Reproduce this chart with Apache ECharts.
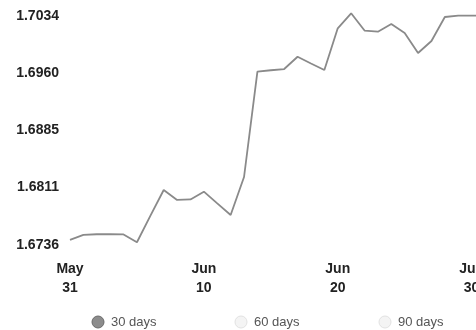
<!DOCTYPE html>
<html>
<head>
<meta charset="utf-8">
<script src="https://cdn.jsdelivr.net/npm/echarts@6/dist/echarts.min.js"></script>
<style>
  html, body { margin: 0; padding: 0; background: #fff; }
  #rateChart { width: 476px; height: 330px; }
</style>
</head>
<body>
<div id="rateChart"></div>
<script>
// daily dates, May 31 -> Jul 1
let dates = ["May 31",
  "Jun 1", "Jun 2", "Jun 3", "Jun 4", "Jun 5", "Jun 6", "Jun 7", "Jun 8", "Jun 9", "Jun 10",
  "Jun 11", "Jun 12", "Jun 13", "Jun 14", "Jun 15", "Jun 16", "Jun 17", "Jun 18", "Jun 19", "Jun 20",
  "Jun 21", "Jun 22", "Jun 23", "Jun 24", "Jun 25", "Jun 26", "Jun 27", "Jun 28", "Jun 29", "Jun 30",
  "Jul 1"];
let rates = [1.67426,
  1.67491, 1.67500, 1.67500, 1.67497, 1.67396, 1.67738, 1.68076, 1.67946, 1.67953, 1.68054,
  1.67901, 1.67751, 1.68245, 1.69615, 1.69634, 1.69650, 1.69810, 1.69722, 1.69637, 1.70180,
  1.70375, 1.70151, 1.70136, 1.70236, 1.70119, 1.69859, 1.70015, 1.70327, 1.70344, 1.70344,
  1.70344];
let yTicks = [1.6736, 1.6811, 1.6885, 1.6960, 1.7034];
let ranges = ["30 days", "60 days", "90 days"];

let chart = echarts.init(document.getElementById("rateChart"));

// radio buttons under the chart
let radioX = [98, 241, 385];
let radios = [];
ranges.forEach(function (r, i) {
  radios.push({
    type: "circle",
    shape: { cx: radioX[i], cy: 322, r: 6 },
    style: i === 0
      ? { fill: "#8c8c8c", stroke: "#6a6a6a", lineWidth: 1 }
      : { fill: "#f4f4f4", stroke: "#e2e2e2", lineWidth: 1 }
  });
  radios.push({
    type: "text",
    x: radioX[i] + 13,
    y: 322,
    style: {
      text: r,
      fill: "#555",
      font: "13px 'Liberation Sans', Arial, sans-serif",
      verticalAlign: "middle"
    }
  });
});

let option = {
  backgroundColor: "#fff",
  animation: false,
  grid: {
    left: 70,
    top: 16,
    right: -9,
    bottom: 85,
    outerBoundsMode: "none"  // let the chart run off the right edge
  },
  xAxis: {
    type: "category",
    data: dates,
    boundaryGap: false,
    axisLine: { show: false },
    axisTick: { show: false },
    axisLabel: {
      // every 10th day, last one (Jul 1) left out
      interval: function (i) { return i % 10 === 0 && i <= 30; },
      hideOverlap: false,
      margin: 15,
      color: "#222",
      fontSize: 14,
      fontWeight: "bold",
      fontFamily: "Liberation Sans",
      lineHeight: 19,
      formatter: function (v) { return v.replace(" ", "\n"); }
    }
  },
  yAxis: {
    type: "value",
    min: yTicks[0],
    max: yTicks[yTicks.length - 1],
    splitLine: { show: false },
    axisLine: { show: false },
    axisTick: { show: false },
    axisLabel: {
      customValues: yTicks,
      margin: 11,
      color: "#222",
      fontSize: 14,
      fontWeight: "bold",
      fontFamily: "Liberation Sans",
      formatter: function (v) { return v.toFixed(4); }
    }
  },
  series: [
    {
      name: "rate",
      type: "line",
      data: rates,
      symbol: "none",
      clip: false,
      lineStyle: { color: "#8a8a8a", width: 1.8 }
    }
  ],
  graphic: radios
};

chart.setOption(option);
</script>
</body>
</html>
